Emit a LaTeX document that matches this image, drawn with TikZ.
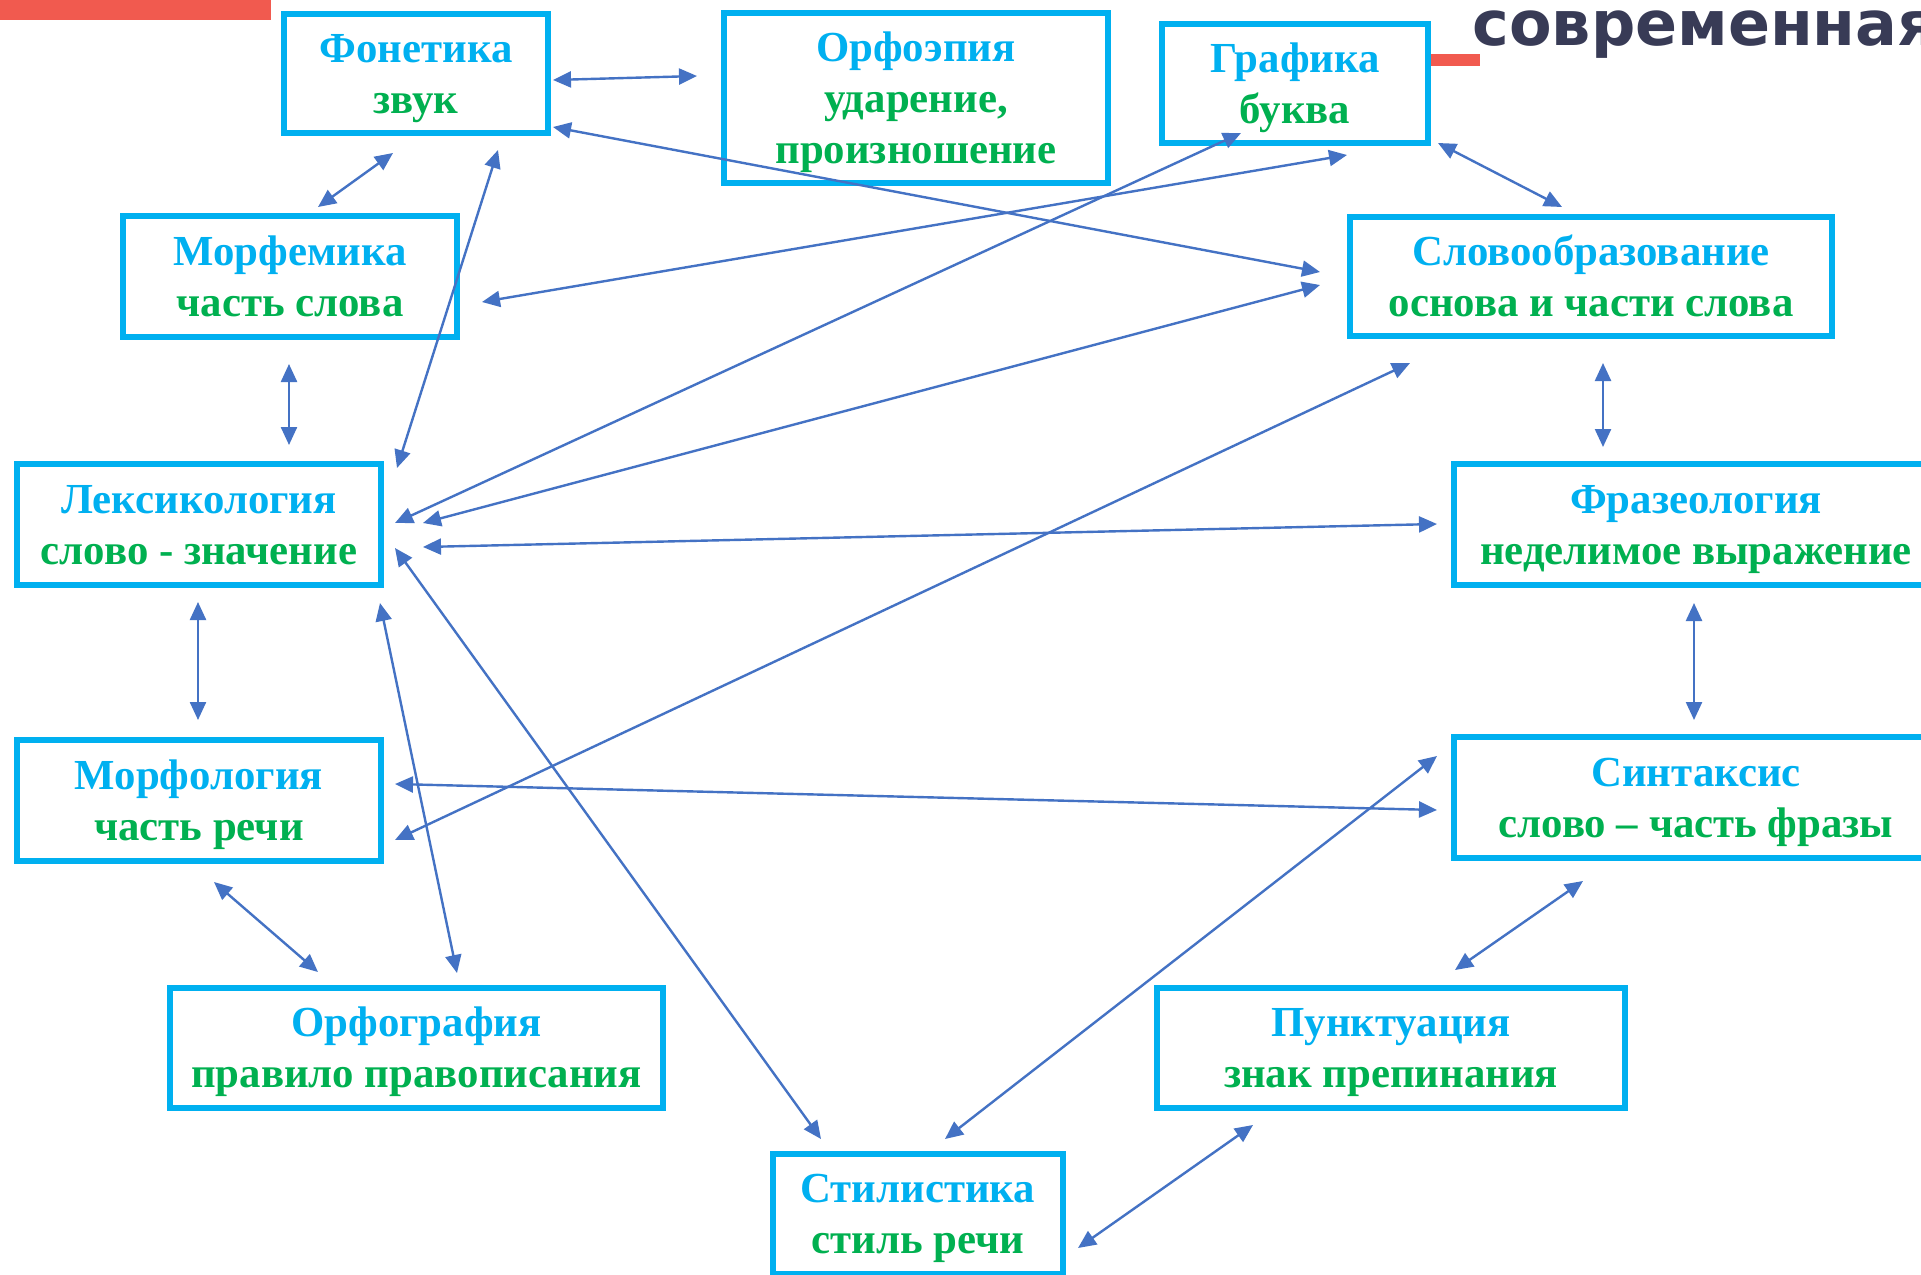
\documentclass[tikz,border=0pt]{standalone}
\usepackage{fontspec}
\setmainfont{Liberation Serif}
\newfontfamily\headfont{DejaVu Sans}
\usetikzlibrary{arrows.meta}
\definecolor{boxblue}{HTML}{00B0F0}
\definecolor{subgreen}{HTML}{00B050}
\definecolor{linkblue}{HTML}{4472C4}
\definecolor{barred}{HTML}{F15A4F}
\definecolor{navytext}{HTML}{383B56}
\newcommand{\boxtitle}[1]{{\color{boxblue}#1}}
\newcommand{\boxsub}[1]{{\color{subgreen}#1}}
\tikzset{
  box/.style={draw=boxblue, line width=2.6pt, inner sep=0pt, outer sep=0pt,
    align=center, font=\bfseries\fontsize{21.4}{25.5}\selectfont, text depth=0pt},
  twolines/.style={text height=39.5pt},
  threelines/.style={text height=65pt},
  link/.style={draw=linkblue, line width=1.2pt,
    {Triangle[length=9pt,width=8pt]}-{Triangle[length=9pt,width=8pt]}},
  redbar/.style={fill=barred, draw=none}
}
\begin{document}
\begin{tikzpicture}[x=0.5pt, y=-0.5pt]
\useasboundingbox (0,0) rectangle (1921,1274);
\clip (0,0) rectangle (1921,1274);
\fill[white] (0,0) rectangle (1921,1274);
% decorations
\fill[redbar] (0,0) rectangle (271,20);
\fill[redbar] (1428,54) rectangle (1480,66);
\node[anchor=base west, inner sep=0pt, text=navytext, font=\headfont\bfseries\fontsize{31}{34}\selectfont] (title) at (1472,45) {современная};
% boxes
\node[box, twolines, minimum width=132pt, minimum height=59.5pt] (fon) at (416,73.5) {\boxtitle{Фонетика}\\\boxsub{звук}};
\node[box, threelines, minimum width=192pt, minimum height=85pt] (orf) at (916,98) {\boxtitle{Орфоэпия}\\\boxsub{ударение,}\\\boxsub{произношение}};
\node[box, twolines, minimum width=133pt, minimum height=59.5pt] (graf) at (1295,83.5) {\boxtitle{Графика}\\\boxsub{буква}};
\node[box, twolines, minimum width=167pt, minimum height=60.5pt] (morfem) at (290,276.5) {\boxtitle{Морфемика}\\\boxsub{часть слова}};
\node[box, twolines, minimum width=241pt, minimum height=59.5pt] (slovo) at (1591,276.5) {\boxtitle{Словообразование}\\\boxsub{основа и части слова}};
\node[box, twolines, minimum width=182pt, minimum height=60.5pt] (leks) at (199,524.5) {\boxtitle{Лексикология}\\\boxsub{слово - значение}};
\node[box, twolines, minimum width=242pt, minimum height=60.5pt] (fraz) at (1696,524.5) {\boxtitle{Фразеология}\\\boxsub{неделимое выражение}};
\node[box, twolines, minimum width=182pt, minimum height=60.5pt] (morfol) at (199,800.5) {\boxtitle{Морфология}\\\boxsub{часть речи}};
\node[box, twolines, minimum width=242pt, minimum height=60.5pt] (sint) at (1696,797.5) {\boxtitle{Синтаксис}\\\boxsub{слово – часть фразы}};
\node[box, twolines, minimum width=246.5pt, minimum height=60pt] (orfog) at (416.5,1048) {\boxtitle{Орфография}\\\boxsub{правило правописания}};
\node[box, twolines, minimum width=234pt, minimum height=60pt] (punkt) at (1391,1048) {\boxtitle{Пунктуация}\\\boxsub{знак препинания}};
\node[box, twolines, minimum width=145pt, minimum height=60pt] (stil) at (918,1214) {\boxtitle{Стилистика}\\\boxsub{стиль речи}};
% connectors
\draw[link] ([shift={(137,6.5)}]fon.center) -- ([shift={(-219,-22)}]orf.center);
\draw[link] ([shift={(-23,79.5)}]fon.center) -- ([shift={(28,-69.5)}]morfem.center);
\draw[link] ([shift={(82,76.5)}]fon.center) -- ([shift={(198,-56.5)}]leks.center);
\draw[link] ([shift={(137,53.5)}]fon.center) -- ([shift={(-271,-4.5)}]slovo.center);
\draw[link] ([shift={(192,25.5)}]morfem.center) -- ([shift={(52,71.5)}]graf.center);
\draw[link] ([shift={(143,59.5)}]graf.center) -- ([shift={(-29,-69.5)}]slovo.center);
\draw[link] ([shift={(-54,49.5)}]graf.center) -- ([shift={(196,-1.5)}]leks.center);
\draw[link] ([shift={(-271,8.5)}]slovo.center) -- ([shift={(224,-1.5)}]leks.center);
\draw[link] ([shift={(-1,87.5)}]morfem.center) -- ([shift={(90,-79.5)}]leks.center);
\draw[link] ([shift={(12,86.5)}]slovo.center) -- ([shift={(-93,-77.5)}]fraz.center);
\draw[link] ([shift={(224,22.5)}]leks.center) -- ([shift={(-259,-0.5)}]fraz.center);
\draw[link] ([shift={(196,23.5)}]leks.center) -- ([shift={(-97,-75)}]stil.center);
\draw[link] ([shift={(-1,77.5)}]leks.center) -- ([shift={(-1,-80.5)}]morfol.center);
\draw[link] ([shift={(181,78.5)}]leks.center) -- ([shift={(40.5,-75)}]orfog.center);
\draw[link] ([shift={(196,39.5)}]morfol.center) -- ([shift={(-181,86.5)}]slovo.center);
\draw[link] ([shift={(196,-16.5)}]morfol.center) -- ([shift={(-259,12.5)}]sint.center);
\draw[link] ([shift={(15,81.5)}]morfol.center) -- ([shift={(-98.5,-76)}]orfog.center);
\draw[link] ([shift={(-2,78.5)}]fraz.center) -- ([shift={(-2,-77.5)}]sint.center);
\draw[link] ([shift={(-113,83.5)}]sint.center) -- ([shift={(64,-78)}]punkt.center);
\draw[link] ([shift={(-259,-41.5)}]sint.center) -- ([shift={(27,-75)}]stil.center);
\draw[link] ([shift={(-138,77)}]punkt.center) -- ([shift={(160,34)}]stil.center);
\end{tikzpicture}
\end{document}
